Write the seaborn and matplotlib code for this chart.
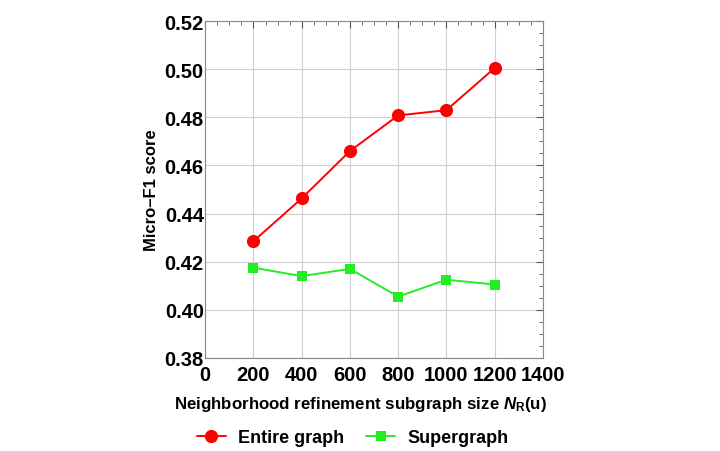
import pandas as pd
import matplotlib.pyplot as plt
import seaborn as sns
from matplotlib.ticker import MultipleLocator

# Data
subgraph_size = [200, 400, 600, 800, 1000, 1200]
entire_graph = [0.4285, 0.4463, 0.4660, 0.4808, 0.4830, 0.5005]
supergraph = [0.4175, 0.4140, 0.4170, 0.4055, 0.4125, 0.4105]
series_names = ["Entire graph", "Supergraph"]

df = pd.DataFrame({
    "size": subgraph_size * 2,
    "score": entire_graph + supergraph,
    "series": [series_names[0]] * len(subgraph_size) + [series_names[1]] * len(subgraph_size),
})

sns.set_theme(style="white")
plt.rcParams['font.family'] = ['Liberation Sans', 'DejaVu Sans']
plt.rcParams['font.weight'] = 'bold'
plt.rcParams['text.color'] = 'black'
plt.rcParams['axes.labelcolor'] = 'black'
plt.rcParams['xtick.labelcolor'] = 'black'
plt.rcParams['ytick.labelcolor'] = 'black'
plt.rcParams['mathtext.fontset'] = 'custom'
plt.rcParams['mathtext.rm'] = 'Liberation Sans:bold'
plt.rcParams['mathtext.it'] = 'Liberation Sans:italic:bold'

fig = plt.figure(figsize=(7.2, 4.52), dpi=100)
ax = fig.add_axes([0.285, 0.206, 0.469, 0.745])

sns.lineplot(data=df, x="size", y="score", hue="series", style="series",
             palette={"Entire graph": "#ff0000", "Supergraph": "#22ee22"},
             markers={"Entire graph": "o", "Supergraph": "s"}, dashes=False,
             markeredgewidth=0, linewidth=1.4, ax=ax, legend=False)
# marker sizes differ per series
for line, ms in zip(ax.get_lines(), [9.5, 6.5]):
    line.set_markersize(ms)

ax.set_xlim(0, 1400)
ax.set_ylim(0.38, 0.52)
ax.xaxis.set_major_locator(MultipleLocator(200))
ax.xaxis.set_minor_locator(MultipleLocator(50))
ax.yaxis.set_major_locator(MultipleLocator(0.02))
ax.yaxis.set_minor_locator(MultipleLocator(0.005))
ax.yaxis.set_major_formatter(plt.FormatStrFormatter('%.2f'))
ax.grid(True, which='major', color='#cfcfcf', linewidth=0.8)
ax.tick_params(which='both', direction='in', top=True, right=True, color='#555555')
ax.tick_params(which='major', length=5, width=0.8, labelsize=14.5)
ax.tick_params(axis='y', pad=1)
ax.tick_params(axis='x', pad=5)
ax.tick_params(which='minor', length=3, width=0.6)
for lbl in ax.get_xticklabels() + ax.get_yticklabels():
    lbl.set_fontweight('bold')
for sp in ax.spines.values():
    sp.set_color('#888888')
    sp.set_linewidth(0.8)

ax.set_xlabel(r"Neighborhood refinement subgraph size $N_{\mathrm{R}}$(u)",
              fontsize=12.2, fontweight='bold')
ax.xaxis.set_label_coords(0.46, -0.107)
ax.set_ylabel("Micro\u2013F1 score", fontsize=12, fontweight='bold', labelpad=4)

handles = [plt.Line2D([], [], color="#ff0000", marker="o", markersize=9.5, markeredgewidth=0, lw=1.4),
           plt.Line2D([], [], color="#22ee22", marker="s", markersize=6.5, markeredgewidth=0, lw=1.4)]
fig.legend(handles, series_names, loc='center', bbox_to_anchor=(0.49, 0.03), ncol=2,
           frameon=False, prop={'size': 13, 'weight': 'bold'}, handlelength=1.6,
           columnspacing=1.2, handletextpad=0.7)

fig.savefig("out.png", dpi=100)
